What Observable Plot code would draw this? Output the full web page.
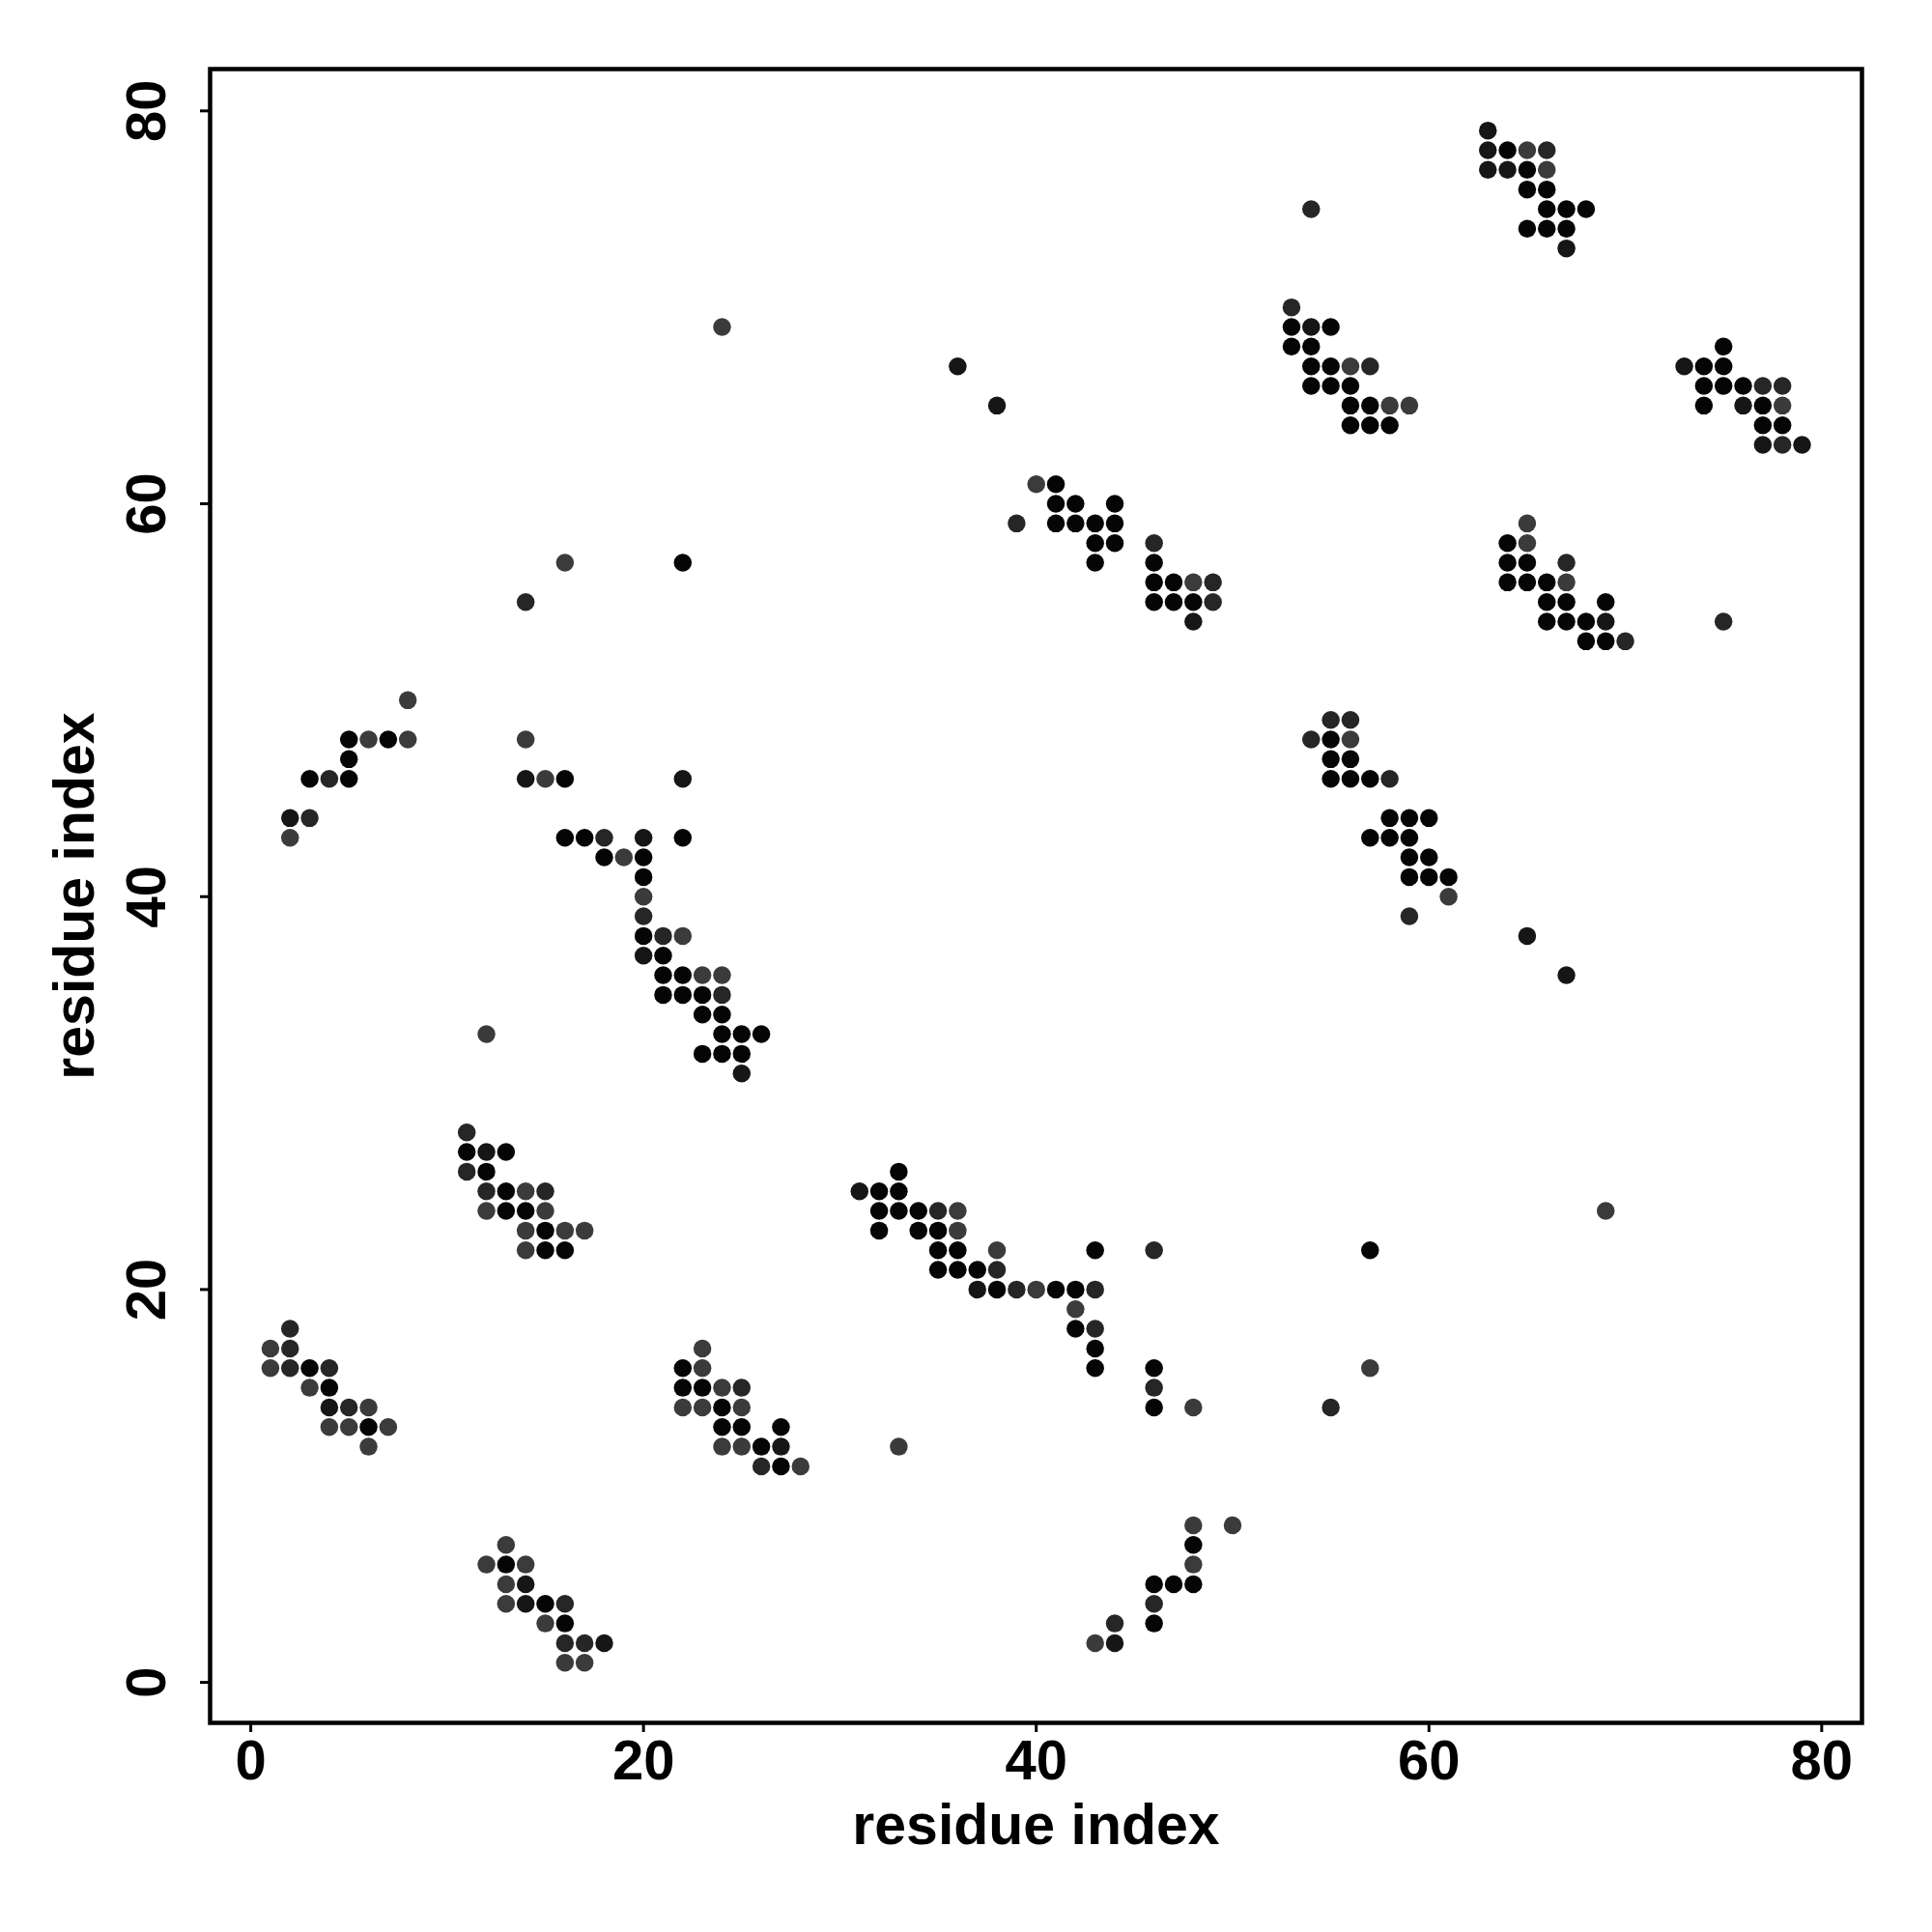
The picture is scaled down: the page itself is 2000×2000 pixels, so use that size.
<!DOCTYPE html>
<html><head><meta charset="utf-8">
<script src="https://cdn.jsdelivr.net/npm/d3@7"></script>
<script src="https://cdn.jsdelivr.net/npm/@observablehq/plot@0.6"></script>
<style>
html,body{margin:0;padding:0;background:#fff}
#chart svg{font-family:"Liberation Sans",Arial,Helvetica,sans-serif;display:block}
</style>
</head><body><div id="chart"></div>
<script>
// contacts as [residue i, residue j, strength level 1 (weakest, gray) .. 4 (strongest, black)]
const clusterA = [[2,18,2],[1,17,1],[2,17,2],[1,16,1],[2,16,2],[3,16,4],[4,16,2],[3,15,1],[4,15,4],[4,14,3],[5,14,2],[6,14,1],[4,13,1],[5,13,1],[6,13,4],[7,13,1],[6,12,1]];
const clusterB = [[23,17,1],[22,16,4],[23,16,1],[22,15,4],[23,15,4],[24,15,1],[25,15,2],[22,14,1],[23,14,1],[24,14,4],[25,14,1],[24,13,4],[25,13,4],[27,13,4],[24,12,1],[25,12,1],[26,12,4],[27,12,3],[26,11,2],[27,11,4],[28,11,1],[33,12,1]];
const clusterC = [[13,7,1],[12,6,1],[13,6,4],[14,6,1],[13,5,1],[14,5,3],[13,4,1],[14,4,3],[15,4,4],[16,4,2],[15,3,1],[16,3,4],[16,2,2],[17,2,2],[18,2,3],[16,1,1],[17,1,1]];
const clusterD = [[48,8,1],[50,8,1],[48,7,4],[48,6,1],[46,5,4],[47,5,4],[48,5,4],[46,4,2],[46,3,4],[44,3,2],[43,2,1],[44,2,3]];
const clusterE = [[33,26,4],[31,25,3],[32,25,4],[33,25,4],[32,24,4],[33,24,4],[34,24,4],[35,24,2],[36,24,1],[32,23,4],[34,23,4],[35,23,4],[36,23,1],[35,22,4],[36,22,4],[38,22,1],[43,22,4],[46,22,2],[35,21,4],[36,21,4],[37,21,4],[38,21,2],[37,20,3],[38,20,4],[39,20,2],[40,20,1],[41,20,4],[42,20,4],[43,20,2],[42,19,1],[42,18,4],[43,18,2],[43,17,4],[43,16,4],[46,16,4],[46,15,2],[46,14,4],[48,14,1]];
const singlesLow = [[57,22,4],[57,16,1],[55,14,2],[69,24,1],[12,33,1]];
const clusterF = [[11,28,2],[11,27,4],[12,27,3],[13,27,4],[11,26,2],[12,26,4],[12,25,2],[13,25,4],[14,25,1],[15,25,2],[12,24,1],[13,24,4],[14,24,4],[15,24,1],[14,23,1],[15,23,4],[16,23,1],[17,23,1],[14,22,1],[15,22,4],[16,22,4]];
const clusterG = [[16,43,4],[17,43,4],[18,43,2],[20,43,3],[22,43,4],[18,42,4],[19,42,1],[20,42,4],[20,41,4],[20,40,1],[20,39,2],[20,38,4],[21,38,2],[22,38,1],[20,37,3],[21,37,4],[21,36,4],[22,36,4],[23,36,1],[24,36,1],[21,35,4],[22,35,4],[23,35,4],[24,35,2],[23,34,4],[24,34,4],[24,33,4],[25,33,4],[26,33,4],[23,32,4],[24,32,4],[25,32,4],[25,31,3]];
const clusterH = [[8,50,1],[5,48,4],[6,48,1],[7,48,4],[8,48,1],[5,47,4],[3,46,4],[4,46,2],[5,46,4],[2,44,3],[3,44,2],[2,43,1]];
const singlesMid = [[16,57,1],[22,57,4],[14,55,2],[14,48,1],[14,46,3],[15,46,1],[16,46,4],[22,46,3],[24,69,1],[36,67,3],[38,65,3],[54,75,2],[75,54,2],[65,38,3],[67,36,3]];
const clusterI = [[40,61,1],[41,61,4],[41,60,4],[42,60,4],[44,60,4],[39,59,2],[41,59,4],[42,59,4],[43,59,4],[44,59,4],[43,58,4],[44,58,4],[43,57,4],[46,58,2],[46,57,4],[46,56,4],[47,56,4],[48,56,1],[49,56,2],[46,55,4],[47,55,4],[48,55,4],[49,55,2],[48,54,3]];
const clusterJ = [[53,70,2],[53,69,4],[54,69,3],[55,69,4],[53,68,4],[54,68,4],[54,67,4],[55,67,4],[56,67,1],[57,67,2],[54,66,4],[55,66,4],[56,66,4],[56,65,4],[57,65,4],[58,65,1],[59,65,1],[56,64,4],[57,64,4],[58,64,4]];
const clusterK = [[63,79,3],[63,78,3],[64,78,4],[65,78,1],[66,78,2],[63,77,3],[64,77,3],[65,77,4],[66,77,1],[65,76,4],[66,76,4],[66,75,4],[67,75,4],[68,75,4],[65,74,4],[66,74,4],[67,74,4],[67,73,3]];
const clusterL = [[75,68,4],[73,67,3],[74,67,4],[75,67,4],[74,66,4],[75,66,4],[76,66,4],[77,66,2],[78,66,2],[74,65,4],[76,65,3],[77,65,4],[78,65,1],[77,64,4],[78,64,4],[77,63,3],[78,63,2],[79,63,3]];
const clusterM = [[65,59,1],[64,58,4],[65,58,1],[64,57,4],[65,57,4],[67,57,2],[64,56,4],[65,56,4],[66,56,4],[67,56,1],[66,55,4],[67,55,4],[69,55,4],[66,54,4],[67,54,4],[68,54,4],[69,54,3],[68,53,4],[69,53,4],[70,53,2]];
const clusterN = [[55,49,2],[56,49,2],[54,48,2],[55,48,4],[56,48,1],[55,47,4],[56,47,4],[55,46,4],[56,46,4],[57,46,4],[58,46,2],[58,44,4],[59,44,4],[60,44,4],[57,43,4],[58,43,4],[59,43,4],[59,42,4],[60,42,4],[59,41,4],[60,41,4],[61,41,4],[61,40,1],[59,39,2]];

const xTicks = [0, 20, 40, 60, 80];
const yTicks = [0, 20, 40, 60, 80];
const xTitle = "residue index";
const yTitle = "residue index";
const levels = [1, 2, 3, 4];

const contacts = [].concat(clusterA, clusterB, clusterC, clusterD, clusterE, singlesLow, clusterF, clusterG, clusterH, singlesMid, clusterI, clusterJ, clusterK, clusterL, clusterM, clusterN)
  .map(([i, j, s]) => ({i, j, s}));

const font = '"Liberation Sans", Arial, Helvetica, sans-serif';

const chart = Plot.plot({
  width: 2000,
  height: 2000,
  marginLeft: 217,
  marginRight: 73,
  marginTop: 71,
  marginBottom: 217,
  style: {fontFamily: font, fontSize: "58px", fontWeight: "bold", color: "black", background: "white"},
  x: {domain: [-2.07, 82.05]},
  y: {domain: [-2.06, 82.13]},
  color: {type: "ordinal", domain: levels, range: ["#3b3b3b", "#262626", "#161616", "#050505"]},
  marks: [
    Plot.dot(contacts, {x: "i", y: "j", r: 9.25, fill: "s", stroke: "none"}),
    Plot.frame({stroke: "black", strokeWidth: 4.5}),
    Plot.axisX({ticks: xTicks, tickSize: 10, tickPadding: 7, strokeWidth: 3, fontSize: 58, fontWeight: "bold", label: null}),
    Plot.axisY({ticks: yTicks, tickSize: 10, tickPadding: 37, tickRotate: -90, strokeWidth: 3, fontSize: 58, fontWeight: "bold", label: null}),
    Plot.text([xTitle], {text: d => d, frameAnchor: "bottom", dy: 84, textAnchor: "middle", lineAnchor: "top", fontSize: 59, fontWeight: "bold", fill: "black"}),
    Plot.text([yTitle], {text: d => d, frameAnchor: "left", dx: -121, rotate: -90, textAnchor: "middle", lineAnchor: "bottom", fontSize: 59, fontWeight: "bold", fill: "black"})
  ]
});
document.getElementById("chart").appendChild(chart);
</script>
</body></html>
